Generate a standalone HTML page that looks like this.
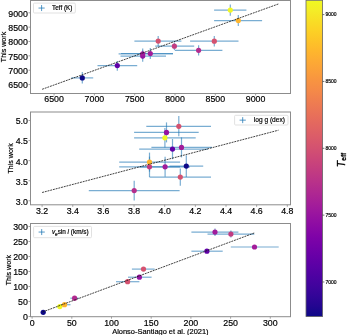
<!DOCTYPE html>
<html><head><meta charset="utf-8"><style>
html,body{margin:0;padding:0;background:#fff;}
text{stroke:#000;stroke-width:0.18px;}
svg{display:block;will-change:transform;}
</style></head><body>
<svg width="347" height="335" viewBox="0 0 347 335" font-family='"Liberation Sans", sans-serif'>
<rect width="347" height="335" fill="#fff"/>
<line x1="71.3" y1="77.9" x2="93.2" y2="77.9" stroke="#1f77b4" stroke-opacity="0.6" stroke-width="1.2"/>
<line x1="82.3" y1="72.1" x2="82.3" y2="83.6" stroke="#1f77b4" stroke-opacity="0.6" stroke-width="1.2"/>
<line x1="97.5" y1="65.6" x2="137.2" y2="65.6" stroke="#1f77b4" stroke-opacity="0.6" stroke-width="1.2"/>
<line x1="117.3" y1="61.1" x2="117.3" y2="70.8" stroke="#1f77b4" stroke-opacity="0.6" stroke-width="1.2"/>
<line x1="120.5" y1="56.1" x2="166.0" y2="56.1" stroke="#1f77b4" stroke-opacity="0.6" stroke-width="1.2"/>
<line x1="142.7" y1="50.5" x2="142.7" y2="61.7" stroke="#1f77b4" stroke-opacity="0.6" stroke-width="1.2"/>
<line x1="118.6" y1="53.8" x2="173.0" y2="53.8" stroke="#1f77b4" stroke-opacity="0.6" stroke-width="1.2"/>
<line x1="142.7" y1="48.5" x2="142.7" y2="59.1" stroke="#1f77b4" stroke-opacity="0.6" stroke-width="1.2"/>
<line x1="121.0" y1="53.5" x2="173.0" y2="53.5" stroke="#1f77b4" stroke-opacity="0.6" stroke-width="1.2"/>
<line x1="150.3" y1="48.0" x2="150.3" y2="59.0" stroke="#1f77b4" stroke-opacity="0.6" stroke-width="1.2"/>
<line x1="134.4" y1="41.1" x2="181.4" y2="41.1" stroke="#1f77b4" stroke-opacity="0.6" stroke-width="1.2"/>
<line x1="158.2" y1="36.1" x2="158.2" y2="46.2" stroke="#1f77b4" stroke-opacity="0.6" stroke-width="1.2"/>
<line x1="155.2" y1="46.2" x2="194.2" y2="46.2" stroke="#1f77b4" stroke-opacity="0.6" stroke-width="1.2"/>
<line x1="174.4" y1="42.5" x2="174.4" y2="50.0" stroke="#1f77b4" stroke-opacity="0.6" stroke-width="1.2"/>
<line x1="174.8" y1="50.3" x2="222.4" y2="50.3" stroke="#1f77b4" stroke-opacity="0.6" stroke-width="1.2"/>
<line x1="198.6" y1="45.2" x2="198.6" y2="55.4" stroke="#1f77b4" stroke-opacity="0.6" stroke-width="1.2"/>
<line x1="190.1" y1="41.2" x2="238.5" y2="41.2" stroke="#1f77b4" stroke-opacity="0.6" stroke-width="1.2"/>
<line x1="214.3" y1="35.9" x2="214.3" y2="46.5" stroke="#1f77b4" stroke-opacity="0.6" stroke-width="1.2"/>
<line x1="214.1" y1="20.6" x2="262.1" y2="20.6" stroke="#1f77b4" stroke-opacity="0.6" stroke-width="1.2"/>
<line x1="238.3" y1="15.1" x2="238.3" y2="26.1" stroke="#1f77b4" stroke-opacity="0.6" stroke-width="1.2"/>
<line x1="214.1" y1="10.1" x2="246.4" y2="10.1" stroke="#1f77b4" stroke-opacity="0.6" stroke-width="1.2"/>
<line x1="230.3" y1="4.4" x2="230.3" y2="15.8" stroke="#1f77b4" stroke-opacity="0.6" stroke-width="1.2"/>
<circle cx="82.3" cy="77.9" r="2.6" fill="#0d0887"/>
<circle cx="117.3" cy="65.6" r="2.6" fill="#6100a7"/>
<circle cx="142.7" cy="56.1" r="2.6" fill="#9613a1"/>
<circle cx="142.7" cy="53.8" r="2.6" fill="#a11b9b"/>
<circle cx="150.3" cy="53.5" r="2.6" fill="#a21d9a"/>
<circle cx="158.2" cy="41.1" r="2.6" fill="#d45270"/>
<circle cx="174.4" cy="46.2" r="2.6" fill="#c23c81"/>
<circle cx="198.6" cy="50.3" r="2.6" fill="#b22b8f"/>
<circle cx="214.3" cy="41.2" r="2.6" fill="#d45270"/>
<circle cx="238.3" cy="20.6" r="2.6" fill="#fdb52e"/>
<circle cx="230.3" cy="10.1" r="2.6" fill="#f0f724"/>
<line x1="42.1" y1="89.3" x2="278.6" y2="3.9" stroke="#111" stroke-width="0.8" stroke-dasharray="1.95 0.85"/>
<rect x="30.5" y="0.5" width="260.0" height="93.0" fill="none" stroke="#8c8c8c" stroke-width="1"/>
<line x1="28.5" y1="84.55" x2="30.5" y2="84.55" stroke="#8c8c8c" stroke-width="0.8"/>
<text x="27.9" y="88.45" text-anchor="end" font-size="8.8">6500</text>
<line x1="28.5" y1="70.2" x2="30.5" y2="70.2" stroke="#8c8c8c" stroke-width="0.8"/>
<text x="27.9" y="74.10000000000001" text-anchor="end" font-size="8.8">7000</text>
<line x1="28.5" y1="55.849999999999994" x2="30.5" y2="55.849999999999994" stroke="#8c8c8c" stroke-width="0.8"/>
<text x="27.9" y="59.74999999999999" text-anchor="end" font-size="8.8">7500</text>
<line x1="28.5" y1="41.5" x2="30.5" y2="41.5" stroke="#8c8c8c" stroke-width="0.8"/>
<text x="27.9" y="45.4" text-anchor="end" font-size="8.8">8000</text>
<line x1="28.5" y1="27.15" x2="30.5" y2="27.15" stroke="#8c8c8c" stroke-width="0.8"/>
<text x="27.9" y="31.049999999999997" text-anchor="end" font-size="8.8">8500</text>
<line x1="28.5" y1="12.8" x2="30.5" y2="12.8" stroke="#8c8c8c" stroke-width="0.8"/>
<text x="27.9" y="16.7" text-anchor="end" font-size="8.8">9000</text>
<line x1="54.1" y1="93.5" x2="54.1" y2="95.5" stroke="#8c8c8c" stroke-width="0.8"/>
<text x="54.1" y="102.2" text-anchor="middle" font-size="8.8">6500</text>
<line x1="94.4" y1="93.5" x2="94.4" y2="95.5" stroke="#8c8c8c" stroke-width="0.8"/>
<text x="94.4" y="102.2" text-anchor="middle" font-size="8.8">7000</text>
<line x1="134.7" y1="93.5" x2="134.7" y2="95.5" stroke="#8c8c8c" stroke-width="0.8"/>
<text x="134.7" y="102.2" text-anchor="middle" font-size="8.8">7500</text>
<line x1="175.0" y1="93.5" x2="175.0" y2="95.5" stroke="#8c8c8c" stroke-width="0.8"/>
<text x="175.0" y="102.2" text-anchor="middle" font-size="8.8">8000</text>
<line x1="215.29999999999998" y1="93.5" x2="215.29999999999998" y2="95.5" stroke="#8c8c8c" stroke-width="0.8"/>
<text x="215.29999999999998" y="102.2" text-anchor="middle" font-size="8.8">8500</text>
<line x1="255.6" y1="93.5" x2="255.6" y2="95.5" stroke="#8c8c8c" stroke-width="0.8"/>
<text x="255.6" y="102.2" text-anchor="middle" font-size="8.8">9000</text>
<rect x="33.5" y="3.1" width="41.8" height="9.9" rx="1" fill="#fff" fill-opacity="0.8" stroke="#d9d9d9" stroke-width="0.8"/>
<line x1="38.5" y1="8.05" x2="44.7" y2="8.05" stroke="#1f77b4" stroke-opacity="0.85" stroke-width="0.9"/>
<line x1="41.6" y1="5.050000000000001" x2="41.6" y2="11.05" stroke="#1f77b4" stroke-opacity="0.85" stroke-width="0.9"/>
<text x="52.1" y="10.350000000000001" font-size="6.3">Teff (K)</text>
<text transform="translate(5.6,47.0) rotate(-90)" text-anchor="middle" font-size="7.1">This work</text>
<line x1="88.8" y1="190.6" x2="179.6" y2="190.6" stroke="#1f77b4" stroke-opacity="0.6" stroke-width="1.2"/>
<line x1="134.2" y1="180.7" x2="134.2" y2="200.5" stroke="#1f77b4" stroke-opacity="0.6" stroke-width="1.2"/>
<line x1="149.5" y1="177.1" x2="211.0" y2="177.1" stroke="#1f77b4" stroke-opacity="0.6" stroke-width="1.2"/>
<line x1="180.3" y1="168.4" x2="180.3" y2="185.8" stroke="#1f77b4" stroke-opacity="0.6" stroke-width="1.2"/>
<line x1="169.4" y1="166.1" x2="203.2" y2="166.1" stroke="#1f77b4" stroke-opacity="0.6" stroke-width="1.2"/>
<line x1="186.3" y1="155.2" x2="186.3" y2="177.0" stroke="#1f77b4" stroke-opacity="0.6" stroke-width="1.2"/>
<line x1="140.0" y1="166.8" x2="190.0" y2="166.8" stroke="#1f77b4" stroke-opacity="0.6" stroke-width="1.2"/>
<line x1="165.1" y1="156.8" x2="165.1" y2="176.8" stroke="#1f77b4" stroke-opacity="0.6" stroke-width="1.2"/>
<line x1="119.2" y1="166.8" x2="180.0" y2="166.8" stroke="#1f77b4" stroke-opacity="0.6" stroke-width="1.2"/>
<line x1="149.5" y1="156.6" x2="149.5" y2="177.0" stroke="#1f77b4" stroke-opacity="0.6" stroke-width="1.2"/>
<line x1="119.2" y1="162.1" x2="180.1" y2="162.1" stroke="#1f77b4" stroke-opacity="0.6" stroke-width="1.2"/>
<line x1="149.5" y1="152.6" x2="149.5" y2="171.6" stroke="#1f77b4" stroke-opacity="0.6" stroke-width="1.2"/>
<line x1="151.4" y1="147.4" x2="212.0" y2="147.4" stroke="#1f77b4" stroke-opacity="0.6" stroke-width="1.2"/>
<line x1="181.5" y1="137.4" x2="181.5" y2="157.4" stroke="#1f77b4" stroke-opacity="0.6" stroke-width="1.2"/>
<line x1="139.2" y1="149.1" x2="208.0" y2="149.1" stroke="#1f77b4" stroke-opacity="0.6" stroke-width="1.2"/>
<line x1="172.5" y1="139.0" x2="172.5" y2="159.2" stroke="#1f77b4" stroke-opacity="0.6" stroke-width="1.2"/>
<line x1="134.1" y1="132.4" x2="198.7" y2="132.4" stroke="#1f77b4" stroke-opacity="0.6" stroke-width="1.2"/>
<line x1="166.5" y1="122.4" x2="166.5" y2="142.4" stroke="#1f77b4" stroke-opacity="0.6" stroke-width="1.2"/>
<line x1="134.1" y1="137.8" x2="195.7" y2="137.8" stroke="#1f77b4" stroke-opacity="0.6" stroke-width="1.2"/>
<line x1="164.9" y1="128.0" x2="164.9" y2="147.6" stroke="#1f77b4" stroke-opacity="0.6" stroke-width="1.2"/>
<line x1="146.3" y1="126.3" x2="211.0" y2="126.3" stroke="#1f77b4" stroke-opacity="0.6" stroke-width="1.2"/>
<line x1="178.8" y1="116.1" x2="178.8" y2="136.3" stroke="#1f77b4" stroke-opacity="0.6" stroke-width="1.2"/>
<circle cx="134.2" cy="190.6" r="2.6" fill="#b42e8d"/>
<circle cx="180.3" cy="177.1" r="2.6" fill="#d45270"/>
<circle cx="186.3" cy="166.1" r="2.6" fill="#0d0887"/>
<circle cx="165.1" cy="166.8" r="2.6" fill="#a11b9b"/>
<circle cx="149.5" cy="166.8" r="2.6" fill="#c23c81"/>
<circle cx="149.5" cy="162.1" r="2.6" fill="#fdb52e"/>
<circle cx="181.5" cy="147.4" r="2.6" fill="#a21d9a"/>
<circle cx="172.5" cy="149.1" r="2.6" fill="#6100a7"/>
<circle cx="166.5" cy="132.4" r="2.6" fill="#9613a1"/>
<circle cx="164.9" cy="137.8" r="2.6" fill="#f0f724"/>
<circle cx="178.8" cy="126.3" r="2.6" fill="#d45270"/>
<line x1="42.1" y1="192.5" x2="278.5" y2="130.2" stroke="#111" stroke-width="0.8" stroke-dasharray="1.95 0.85"/>
<rect x="30.5" y="112.0" width="260.0" height="92.80000000000001" fill="none" stroke="#8c8c8c" stroke-width="1"/>
<line x1="28.5" y1="200.78" x2="30.5" y2="200.78" stroke="#8c8c8c" stroke-width="0.8"/>
<text x="27.9" y="204.68" text-anchor="end" font-size="8.8">3.0</text>
<line x1="28.5" y1="180.71" x2="30.5" y2="180.71" stroke="#8c8c8c" stroke-width="0.8"/>
<text x="27.9" y="184.61" text-anchor="end" font-size="8.8">3.5</text>
<line x1="28.5" y1="160.64" x2="30.5" y2="160.64" stroke="#8c8c8c" stroke-width="0.8"/>
<text x="27.9" y="164.54" text-anchor="end" font-size="8.8">4.0</text>
<line x1="28.5" y1="140.57" x2="30.5" y2="140.57" stroke="#8c8c8c" stroke-width="0.8"/>
<text x="27.9" y="144.47" text-anchor="end" font-size="8.8">4.5</text>
<line x1="28.5" y1="120.5" x2="30.5" y2="120.5" stroke="#8c8c8c" stroke-width="0.8"/>
<text x="27.9" y="124.4" text-anchor="end" font-size="8.8">5.0</text>
<line x1="42.1" y1="204.8" x2="42.1" y2="206.8" stroke="#8c8c8c" stroke-width="0.8"/>
<text x="42.1" y="214.0" text-anchor="middle" font-size="8.8">3.2</text>
<line x1="72.75" y1="204.8" x2="72.75" y2="206.8" stroke="#8c8c8c" stroke-width="0.8"/>
<text x="72.75" y="214.0" text-anchor="middle" font-size="8.8">3.4</text>
<line x1="103.4" y1="204.8" x2="103.4" y2="206.8" stroke="#8c8c8c" stroke-width="0.8"/>
<text x="103.4" y="214.0" text-anchor="middle" font-size="8.8">3.6</text>
<line x1="134.04999999999998" y1="204.8" x2="134.04999999999998" y2="206.8" stroke="#8c8c8c" stroke-width="0.8"/>
<text x="134.04999999999998" y="214.0" text-anchor="middle" font-size="8.8">3.8</text>
<line x1="164.7" y1="204.8" x2="164.7" y2="206.8" stroke="#8c8c8c" stroke-width="0.8"/>
<text x="164.7" y="214.0" text-anchor="middle" font-size="8.8">4.0</text>
<line x1="195.35" y1="204.8" x2="195.35" y2="206.8" stroke="#8c8c8c" stroke-width="0.8"/>
<text x="195.35" y="214.0" text-anchor="middle" font-size="8.8">4.2</text>
<line x1="225.99999999999997" y1="204.8" x2="225.99999999999997" y2="206.8" stroke="#8c8c8c" stroke-width="0.8"/>
<text x="225.99999999999997" y="214.0" text-anchor="middle" font-size="8.8">4.4</text>
<line x1="256.65" y1="204.8" x2="256.65" y2="206.8" stroke="#8c8c8c" stroke-width="0.8"/>
<text x="256.65" y="214.0" text-anchor="middle" font-size="8.8">4.6</text>
<line x1="287.3" y1="204.8" x2="287.3" y2="206.8" stroke="#8c8c8c" stroke-width="0.8"/>
<text x="287.3" y="214.0" text-anchor="middle" font-size="8.8">4.8</text>
<rect x="234.6" y="115.3" width="53.4" height="9.7" rx="1" fill="#fff" fill-opacity="0.8" stroke="#d9d9d9" stroke-width="0.8"/>
<line x1="239.6" y1="120.14999999999999" x2="245.79999999999998" y2="120.14999999999999" stroke="#1f77b4" stroke-opacity="0.85" stroke-width="0.9"/>
<line x1="242.7" y1="117.14999999999999" x2="242.7" y2="123.14999999999999" stroke="#1f77b4" stroke-opacity="0.85" stroke-width="0.9"/>
<text x="253.79999999999998" y="122.44999999999999" font-size="6.6">log g (dex)</text>
<text transform="translate(13.2,158.4) rotate(-90)" text-anchor="middle" font-size="7.1">This work</text>
<line x1="42.0" y1="312.3" x2="44.4" y2="312.3" stroke="#1f77b4" stroke-opacity="0.6" stroke-width="1.2"/>
<line x1="43.2" y1="311.8" x2="43.2" y2="312.8" stroke="#1f77b4" stroke-opacity="0.6" stroke-width="1.2"/>
<line x1="57.3" y1="306.6" x2="62.3" y2="306.6" stroke="#1f77b4" stroke-opacity="0.6" stroke-width="1.2"/>
<line x1="59.8" y1="305.8" x2="59.8" y2="307.4" stroke="#1f77b4" stroke-opacity="0.6" stroke-width="1.2"/>
<line x1="60.0" y1="304.7" x2="70.5" y2="304.7" stroke="#1f77b4" stroke-opacity="0.6" stroke-width="1.2"/>
<line x1="64.5" y1="304.0" x2="64.5" y2="305.4" stroke="#1f77b4" stroke-opacity="0.6" stroke-width="1.2"/>
<line x1="70.3" y1="298.2" x2="78.9" y2="298.2" stroke="#1f77b4" stroke-opacity="0.6" stroke-width="1.2"/>
<line x1="74.6" y1="297.5" x2="74.6" y2="298.9" stroke="#1f77b4" stroke-opacity="0.6" stroke-width="1.2"/>
<line x1="116.0" y1="281.7" x2="139.4" y2="281.7" stroke="#1f77b4" stroke-opacity="0.6" stroke-width="1.2"/>
<line x1="127.6" y1="281.0" x2="127.6" y2="282.4" stroke="#1f77b4" stroke-opacity="0.6" stroke-width="1.2"/>
<line x1="128.0" y1="277.2" x2="151.6" y2="277.2" stroke="#1f77b4" stroke-opacity="0.6" stroke-width="1.2"/>
<line x1="139.4" y1="276.5" x2="139.4" y2="277.9" stroke="#1f77b4" stroke-opacity="0.6" stroke-width="1.2"/>
<line x1="131.9" y1="269.1" x2="154.6" y2="269.1" stroke="#1f77b4" stroke-opacity="0.6" stroke-width="1.2"/>
<line x1="143.5" y1="268.4" x2="143.5" y2="269.8" stroke="#1f77b4" stroke-opacity="0.6" stroke-width="1.2"/>
<line x1="191.4" y1="251.2" x2="222.7" y2="251.2" stroke="#1f77b4" stroke-opacity="0.6" stroke-width="1.2"/>
<line x1="206.9" y1="250.5" x2="206.9" y2="251.9" stroke="#1f77b4" stroke-opacity="0.6" stroke-width="1.2"/>
<line x1="230.8" y1="247.0" x2="278.7" y2="247.0" stroke="#1f77b4" stroke-opacity="0.6" stroke-width="1.2"/>
<line x1="254.5" y1="246.3" x2="254.5" y2="247.7" stroke="#1f77b4" stroke-opacity="0.6" stroke-width="1.2"/>
<line x1="191.4" y1="232.1" x2="238.4" y2="232.1" stroke="#1f77b4" stroke-opacity="0.6" stroke-width="1.2"/>
<line x1="215.0" y1="228.4" x2="215.0" y2="236.0" stroke="#1f77b4" stroke-opacity="0.6" stroke-width="1.2"/>
<line x1="207.5" y1="234.1" x2="254.3" y2="234.1" stroke="#1f77b4" stroke-opacity="0.6" stroke-width="1.2"/>
<line x1="230.9" y1="230.6" x2="230.9" y2="237.6" stroke="#1f77b4" stroke-opacity="0.6" stroke-width="1.2"/>
<circle cx="43.2" cy="312.3" r="2.6" fill="#0d0887"/>
<circle cx="59.8" cy="306.6" r="2.6" fill="#f0f724"/>
<circle cx="64.5" cy="304.7" r="2.6" fill="#fdb52e"/>
<circle cx="74.6" cy="298.2" r="2.6" fill="#b22b8f"/>
<circle cx="127.6" cy="281.7" r="2.6" fill="#d45270"/>
<circle cx="139.4" cy="277.2" r="2.6" fill="#9613a1"/>
<circle cx="143.5" cy="269.1" r="2.6" fill="#d45270"/>
<circle cx="206.9" cy="251.2" r="2.6" fill="#6100a7"/>
<circle cx="254.5" cy="247.0" r="2.6" fill="#a21d9a"/>
<circle cx="215.0" cy="232.1" r="2.6" fill="#a11b9b"/>
<circle cx="230.9" cy="234.1" r="2.6" fill="#c23c81"/>
<line x1="42.5" y1="312.0" x2="254.5" y2="232.9" stroke="#111" stroke-width="0.8" stroke-dasharray="1.95 0.85"/>
<rect x="30.5" y="223.5" width="260.0" height="93.19999999999999" fill="none" stroke="#8c8c8c" stroke-width="1"/>
<line x1="28.5" y1="316.5" x2="30.5" y2="316.5" stroke="#8c8c8c" stroke-width="0.8"/>
<text x="27.9" y="320.4" text-anchor="end" font-size="8.8">0</text>
<line x1="28.5" y1="301.5" x2="30.5" y2="301.5" stroke="#8c8c8c" stroke-width="0.8"/>
<text x="27.9" y="305.4" text-anchor="end" font-size="8.8">50</text>
<line x1="28.5" y1="286.5" x2="30.5" y2="286.5" stroke="#8c8c8c" stroke-width="0.8"/>
<text x="27.9" y="290.4" text-anchor="end" font-size="8.8">100</text>
<line x1="28.5" y1="271.5" x2="30.5" y2="271.5" stroke="#8c8c8c" stroke-width="0.8"/>
<text x="27.9" y="275.4" text-anchor="end" font-size="8.8">150</text>
<line x1="28.5" y1="256.5" x2="30.5" y2="256.5" stroke="#8c8c8c" stroke-width="0.8"/>
<text x="27.9" y="260.4" text-anchor="end" font-size="8.8">200</text>
<line x1="28.5" y1="241.5" x2="30.5" y2="241.5" stroke="#8c8c8c" stroke-width="0.8"/>
<text x="27.9" y="245.4" text-anchor="end" font-size="8.8">250</text>
<line x1="28.5" y1="226.5" x2="30.5" y2="226.5" stroke="#8c8c8c" stroke-width="0.8"/>
<text x="27.9" y="230.4" text-anchor="end" font-size="8.8">300</text>
<line x1="32.1" y1="316.7" x2="32.1" y2="318.7" stroke="#8c8c8c" stroke-width="0.8"/>
<text x="32.1" y="325.8" text-anchor="middle" font-size="8.8">0</text>
<line x1="71.80000000000001" y1="316.7" x2="71.80000000000001" y2="318.7" stroke="#8c8c8c" stroke-width="0.8"/>
<text x="71.80000000000001" y="325.8" text-anchor="middle" font-size="8.8">50</text>
<line x1="111.5" y1="316.7" x2="111.5" y2="318.7" stroke="#8c8c8c" stroke-width="0.8"/>
<text x="111.5" y="325.8" text-anchor="middle" font-size="8.8">100</text>
<line x1="151.20000000000002" y1="316.7" x2="151.20000000000002" y2="318.7" stroke="#8c8c8c" stroke-width="0.8"/>
<text x="151.20000000000002" y="325.8" text-anchor="middle" font-size="8.8">150</text>
<line x1="190.9" y1="316.7" x2="190.9" y2="318.7" stroke="#8c8c8c" stroke-width="0.8"/>
<text x="190.9" y="325.8" text-anchor="middle" font-size="8.8">200</text>
<line x1="230.6" y1="316.7" x2="230.6" y2="318.7" stroke="#8c8c8c" stroke-width="0.8"/>
<text x="230.6" y="325.8" text-anchor="middle" font-size="8.8">250</text>
<line x1="270.3" y1="316.7" x2="270.3" y2="318.7" stroke="#8c8c8c" stroke-width="0.8"/>
<text x="270.3" y="325.8" text-anchor="middle" font-size="8.8">300</text>
<rect x="33.6" y="226.4" width="57.9" height="11.3" rx="1" fill="#fff" fill-opacity="0.8" stroke="#d9d9d9" stroke-width="0.8"/>
<line x1="38.6" y1="232.05" x2="44.800000000000004" y2="232.05" stroke="#1f77b4" stroke-opacity="0.85" stroke-width="0.9"/>
<line x1="41.7" y1="229.05" x2="41.7" y2="235.05" stroke="#1f77b4" stroke-opacity="0.85" stroke-width="0.9"/>
<text x="51.900000000000006" y="234.35000000000002" font-size="6.4"><tspan font-style="italic">v</tspan><tspan font-style="italic" font-size="4.6" dy="1.3">e</tspan><tspan dy="-1.3">sin</tspan><tspan font-style="italic"> i</tspan> (km/s)</text>
<text transform="translate(11.3,270.1) rotate(-90)" text-anchor="middle" font-size="7.1">This work</text>
<text x="160.4" y="333.5" text-anchor="middle" font-size="7.45">Alonso-Santiago et al. (2021)</text>
<defs><linearGradient id="cb" x1="0" y1="1" x2="0" y2="0">
<stop offset="0.0000" stop-color="#0d0887"/>
<stop offset="0.0312" stop-color="#220690"/>
<stop offset="0.0625" stop-color="#310597"/>
<stop offset="0.0938" stop-color="#3f049c"/>
<stop offset="0.1250" stop-color="#4c02a1"/>
<stop offset="0.1562" stop-color="#5901a5"/>
<stop offset="0.1875" stop-color="#6600a7"/>
<stop offset="0.2188" stop-color="#7201a8"/>
<stop offset="0.2500" stop-color="#7e03a8"/>
<stop offset="0.2812" stop-color="#8a09a5"/>
<stop offset="0.3125" stop-color="#9511a1"/>
<stop offset="0.3438" stop-color="#a01a9c"/>
<stop offset="0.3750" stop-color="#aa2395"/>
<stop offset="0.4062" stop-color="#b32c8e"/>
<stop offset="0.4375" stop-color="#bc3587"/>
<stop offset="0.4688" stop-color="#c43e7f"/>
<stop offset="0.5000" stop-color="#cc4778"/>
<stop offset="0.5312" stop-color="#d35171"/>
<stop offset="0.5625" stop-color="#da5a6a"/>
<stop offset="0.5938" stop-color="#e06363"/>
<stop offset="0.6250" stop-color="#e66c5c"/>
<stop offset="0.6562" stop-color="#eb7655"/>
<stop offset="0.6875" stop-color="#f0804e"/>
<stop offset="0.7188" stop-color="#f58b47"/>
<stop offset="0.7500" stop-color="#f89540"/>
<stop offset="0.7812" stop-color="#fba139"/>
<stop offset="0.8125" stop-color="#fdac33"/>
<stop offset="0.8438" stop-color="#feb82c"/>
<stop offset="0.8750" stop-color="#fdc527"/>
<stop offset="0.9062" stop-color="#fcd225"/>
<stop offset="0.9375" stop-color="#f8df25"/>
<stop offset="0.9688" stop-color="#f4ed27"/>
<stop offset="1.0000" stop-color="#f0f921"/>
</linearGradient></defs>
<rect x="306.0" y="0.3" width="16.600000000000023" height="316.3" fill="url(#cb)" stroke="#666" stroke-width="0.8"/>
<line x1="322.6" y1="281.98" x2="324.40000000000003" y2="281.98" stroke="#333" stroke-width="0.7"/>
<text x="325.40000000000003" y="283.78" font-size="5">7000</text>
<line x1="322.6" y1="215.13" x2="324.40000000000003" y2="215.13" stroke="#333" stroke-width="0.7"/>
<text x="325.40000000000003" y="216.93" font-size="5">7500</text>
<line x1="322.6" y1="148.29" x2="324.40000000000003" y2="148.29" stroke="#333" stroke-width="0.7"/>
<text x="325.40000000000003" y="150.09" font-size="5">8000</text>
<line x1="322.6" y1="81.45" x2="324.40000000000003" y2="81.45" stroke="#333" stroke-width="0.7"/>
<text x="325.40000000000003" y="83.25" font-size="5">8500</text>
<line x1="322.6" y1="14.60" x2="324.40000000000003" y2="14.60" stroke="#333" stroke-width="0.7"/>
<text x="325.40000000000003" y="16.40" font-size="5">9000</text>
<text transform="translate(345.4,167.2) rotate(-90)" font-size="10.3" font-style="italic" style="stroke-width:0.35px">T<tspan font-size="6.6" font-style="normal" letter-spacing="0.35" dx="0.1" dy="0.9">eff</tspan></text>
</svg>
</body></html>
